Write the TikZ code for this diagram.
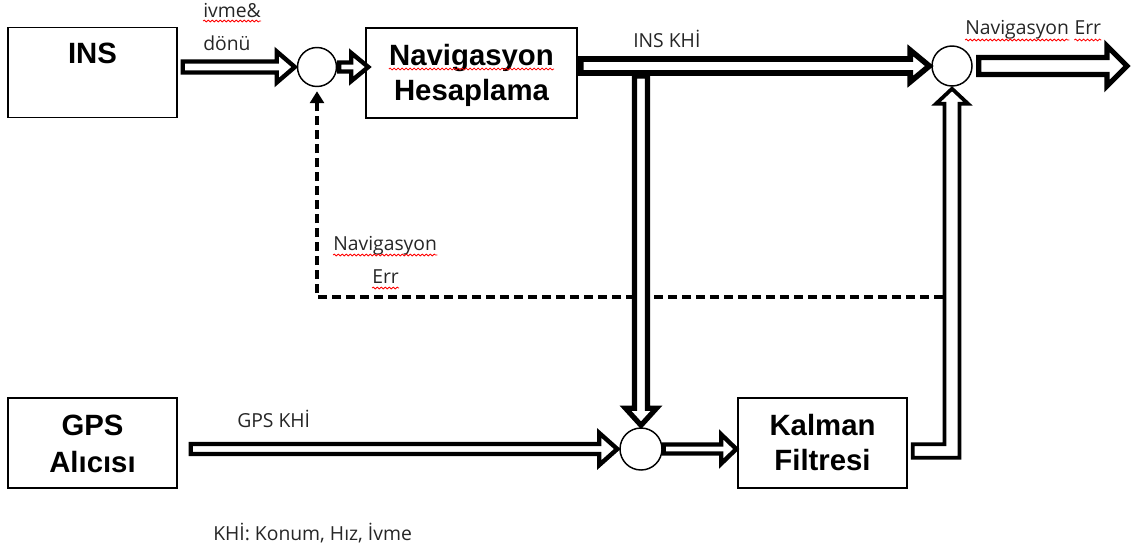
\documentclass[tikz,border=0pt]{standalone}
\usepackage{fontspec}
\setmainfont{Open Sans}
\newfontfamily\boxfont{Liberation Sans}
\usetikzlibrary{calc,arrows.meta,decorations.pathmorphing}

\tikzset{
 box/.style={draw, line width=1.1pt, fill=white, minimum width=126.75pt, minimum height=67.5pt, inner sep=0pt},
 boxtext/.style={font=\boxfont\bfseries\fontsize{22}{26}\selectfont, anchor=base, inner sep=0pt},
 lbl/.style={font=\fontsize{14.5}{17}\selectfont, anchor=base west, inner sep=0pt, text=black!85},
 sumnode/.style={circle, draw, line width=1.1pt, fill=white, inner sep=0pt},
 blockarrow/.style={draw=black, fill=white, line width=3.3pt, line join=miter},
 wavy/.style={draw=red, line width=0.6pt, decorate, decoration={snake, segment length=3pt, amplitude=0.7pt}},
 dline/.style={line width=2.4pt, dash pattern=on 6.75pt off 3.75pt, -{Triangle[length=9pt,width=10.5pt]}},
}

\newcommand{\barrow}[6][]{%
 \coordinate (bs) at #2;
 \coordinate (be) at #3;
 \coordinate (bm) at ($(be)!#6!(bs)$);
 \draw[blockarrow,#1] ($(bs)!#4!90:(be)$) -- ($(bm)!#4!90:(be)$) -- ($(bm)!#5!90:(be)$) -- (be) -- ($(bm)!#5!-90:(be)$) -- ($(bm)!#4!-90:(be)$) -- ($(bs)!#4!-90:(be)$) -- cycle;
}

\begin{document}
\begin{tikzpicture}[x=0.75pt,y=-0.75pt]
\useasboundingbox (0,0) rectangle (1137,551);

% boxes
\node[box] (ins) at (92.5,72.5) {};
\node[boxtext] (insT) at (92.5,63) {INS};
\node[box, minimum width=158.25pt] (nav) at (471.5,73) {};
\node[boxtext] (navA) at (471.5,65) {Navigasyon};
\node[boxtext] (navB) at (471.5,100) {Hesaplama};
\node[box] (gps) at (92.5,443) {};
\node[boxtext] (gpsA) at (92.5,435) {GPS};
\node[boxtext] (gpsB) at (92.5,472) {Alıcısı};
\node[box] (kal) at (822.5,443) {};
\node[boxtext] (kalA) at (822.5,435) {Kalman};
\node[boxtext] (kalB) at (822.5,470) {Filtresi};

% summing circles
\node[sumnode, minimum size=29.25pt] (c1) at (317,67) {};
\node[sumnode, minimum size=30pt] (c2) at (952,66) {};
\node[sumnode, minimum size=31.5pt] (c3) at (641,449) {};

% dashed feedback
\coordinate (dstart) at (943,297);
\draw[dline] (dstart) -| ($(c1.south)+(0,4)$);

% block arrows
\barrow{($(ins.east|-c1)+(5,0)$)}{($(c1.west)+(-2,0)$)}{4.1pt}{11.6pt}{13.5pt}
\barrow{($(c1.east)+(2,0)$)}{($(nav.west|-c1)+(3,0)$)}{3.4pt}{10.5pt}{12.75pt}
\barrow[line width=4.2pt]{($(nav.east|-c2)+(3,0)$)}{($(c2.west)+(-2,0)$)}{5.25pt}{11.8pt}{14.25pt}
\barrow[line width=3.9pt]{($(c3|-nav.east)+(0,3)$)}{($(c3.north)+(0,-2)$)}{4.9pt}{11.6pt}{12.75pt}
\coordinate (out) at (1127,66);
\barrow[line width=3.9pt]{($(c2.east)+(6,0)$)}{(out)}{6.4pt}{15pt}{15pt}
\barrow{($(gps.east|-c3)+(13,0)$)}{($(c3.west)+(-2,0)$)}{3.75pt}{12pt}{13.5pt}
\barrow{($(c3.east)+(1,0)$)}{($(kal.west|-c3)+(-1,0)$)}{3.4pt}{10.9pt}{11.25pt}

% Kalman -> c2 bent arrow
\coordinate (k1) at ($(kal.east)+(5,8)$);
\coordinate (kc) at (c2.south|-k1);
\coordinate (kt) at ($(c2.south)+(0,2)$);
\draw[blockarrow, line width=2.8pt] ($(k1)+(0,-6.75)$) -- ($(kc)+(-7.5,-6.75)$) -- ($(kt)+(-7.5,15)$) -- ($(kt)+(-16,15)$) -- (kt) -- ($(kt)+(16,15)$) -- ($(kt)+(7.5,15)$) -- ($(kc)+(7.5,6.75)$) -- ($(k1)+(0,6.75)$) -- cycle;

% labels
\node[lbl] (l1) at (203,17) {ivme\&};
\node[lbl] (l2) at (203,50) {dönü};
\node[lbl] (l3) at (633,47) {INS KHİ};
\node[lbl] (l4) at (965,34) {Navigasyon};
\node[lbl] (l4b) at ($(l4.base east)+(5,0)$) {Err};
\node[lbl] (l5) at (333,250) {Navigasyon};
\node[lbl] (l6) at (372,283) {Err};
\node[lbl] (l7) at (237,427) {GPS KHİ};
\node[lbl] (l8) at (213,540) {KHİ: Konum, Hız, İvme};

% spell-check underlines
\draw[wavy] ($(l1.base west)+(0,4)$) -- ($(l1.base east)+(0,4)$);
\draw[wavy] ($(l4.base west)+(0,6)$) -- ($(l4.base east)+(0,6)$);
\draw[wavy] ($(l4b.base west)+(0,6)$) -- ($(l4b.base east)+(0,6)$);
\draw[wavy] ($(l5.base west)+(0,5)$) -- ($(l5.base east)+(0,5)$);
\draw[wavy] ($(l6.base west)+(0,5)$) -- ($(l6.base east)+(0,5)$);
\draw[wavy] ($(navA.base west)+(0,4)$) -- ($(navA.base east)+(0,4)$);
\end{tikzpicture}
\end{document}
